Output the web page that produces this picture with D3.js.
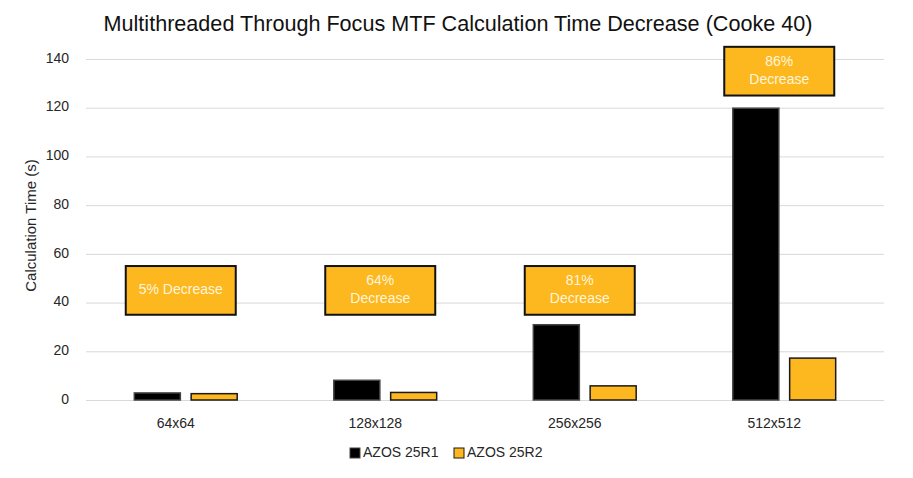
<!DOCTYPE html>
<html lang='en'>
<head>
  <title>MTF Calculation Time</title>
  <script src='https://cdn.jsdelivr.net/npm/d3@7/dist/d3.min.js'></script>
  <style>
    body { margin: 0; background: #fff; }
    text { font-family: "Liberation Sans", Arial, sans-serif; }
  </style>
</head>
<body>
  <script>
    // data
    let categories = ["64x64", "128x128", "256x256", "512x512"];
    let seriesNames = ["AZOS 25R1", "AZOS 25R2"];
    let r1Times = [2.9, 8.1, 30.9, 119.8];
    let r2Times = [2.6, 3.1, 5.8, 17.2];
    let noteLines = [["5% Decrease"], ["64%", "Decrease"], ["81%", "Decrease"], ["86%", "Decrease"]];
    let yTicks = [0, 20, 40, 60, 80, 100, 120, 140];

    let width = 913, height = 478;
    let margins = { left: 86, top: 59, right: 29, bottom: 78 };
    let colors = ["#000000", "#fdb71f"];
    let strokes = ["#444444", "#1a1a1a"];

    let svg = d3.select("body").append("svg")
      .attr("width", width)
      .attr("height", height);

    let x = d3.scaleBand()
      .domain(categories)
      .range([margins.left, width - margins.right]);
    let xInner = d3.scaleBand()
      .domain(seriesNames)
      .range([0, x.bandwidth()])
      .paddingInner(0.19)
      .paddingOuter(0.85);
    let y = d3.scaleLinear()
      .domain([0, 140])
      .range([height - margins.bottom, margins.top]);

    // gridlines
    svg.append("g").selectAll("line").data(yTicks).join("line")
      .attr("x1", margins.left).attr("x2", width - margins.right)
      .attr("y1", d => y(d) + 0.5).attr("y2", d => y(d) + 0.5)
      .attr("stroke", "#d9d9d9").attr("stroke-width", 1);

    // y tick labels
    svg.append("g").selectAll("text").data(yTicks).join("text")
      .attr("x", 69).attr("y", d => y(d))
      .attr("text-anchor", "end").attr("dominant-baseline", "middle")
      .attr("font-size", 14).attr("fill", "#262626")
      .text(d => d);

    // bars
    let rows = categories.map((c, i) => ({ cat: c, vals: [r1Times[i], r2Times[i]] }));
    let groups = svg.append("g").selectAll("g").data(rows).join("g")
      .attr("transform", d => `translate(${x(d.cat)},0)`);
    groups.selectAll("rect").data(d => d.vals.map((v, k) => ({ v, k })))
      .join("rect")
      .attr("x", d => xInner(seriesNames[d.k]))
      .attr("width", xInner.bandwidth())
      .attr("y", d => y(d.v))
      .attr("height", d => y(0) - y(d.v))
      .attr("fill", d => colors[d.k])
      .attr("stroke", d => strokes[d.k])
      .attr("stroke-width", 1.5);

    // decrease callouts (value range of each box)
    let noteLow = [35, 35, 35, 125];
    let noteHigh = [55, 55, 55, 145];
    let boxW = 110;
    let notes = svg.append("g").selectAll("g").data(noteLines).join("g")
      .attr("transform", (d, i) => `translate(${x(categories[i]) + x.bandwidth() / 2 - 5},0)`);
    notes.append("rect")
      .attr("x", -boxW / 2).attr("width", boxW)
      .attr("y", (d, i) => y(noteHigh[i]))
      .attr("height", (d, i) => y(noteLow[i]) - y(noteHigh[i]))
      .attr("fill", "#fdb71f").attr("stroke", "#111").attr("stroke-width", 2);
    notes.each(function (lines, i) {
      let mid = (y(noteLow[i]) + y(noteHigh[i])) / 2;
      d3.select(this).selectAll("text").data(lines).join("text")
        .attr("x", 0)
        .attr("y", (d, j) => mid + (j - (lines.length - 1) / 2) * 18)
        .attr("text-anchor", "middle").attr("dominant-baseline", "middle")
        .attr("font-size", 14).attr("fill", "#fff6dc")
        .text(d => d);
    });

    // x labels
    svg.append("g").selectAll("text").data(categories).join("text")
      .attr("x", d => x(d) + x.bandwidth() / 2 - 10)
      .attr("y", 424)
      .attr("text-anchor", "middle").attr("dominant-baseline", "middle")
      .attr("font-size", 14).attr("fill", "#262626")
      .text(d => d);

    // y axis title
    svg.append("text")
      .attr("transform", `translate(32,${(y(0) + y(140)) / 2 - 4}) rotate(-90)`)
      .attr("text-anchor", "middle").attr("dominant-baseline", "middle")
      .attr("font-size", 15).attr("fill", "#262626")
      .text("Calculation Time (s)");

    // title
    svg.append("text")
      .attr("x", 458).attr("y", 25)
      .attr("text-anchor", "middle").attr("dominant-baseline", "middle")
      .attr("font-family", "'Open Sans', sans-serif")
      .attr("font-size", 21.6).attr("fill", "#111")
      .text("Multithreaded Through Focus MTF Calculation Time Decrease (Cooke 40)");

    // legend
    let legendX = [350, 454];
    let legend = svg.append("g").selectAll("g").data(seriesNames).join("g")
      .attr("transform", (d, i) => `translate(${legendX[i]},453)`);
    legend.append("rect")
      .attr("x", 0).attr("y", -5).attr("width", 10).attr("height", 10)
      .attr("fill", (d, i) => colors[i]).attr("stroke", (d, i) => strokes[i]);
    legend.append("text")
      .attr("x", 13).attr("y", 0).attr("dominant-baseline", "middle")
      .attr("font-size", 14).attr("fill", "#262626")
      .text(d => d);
  </script>
</body>
</html>
